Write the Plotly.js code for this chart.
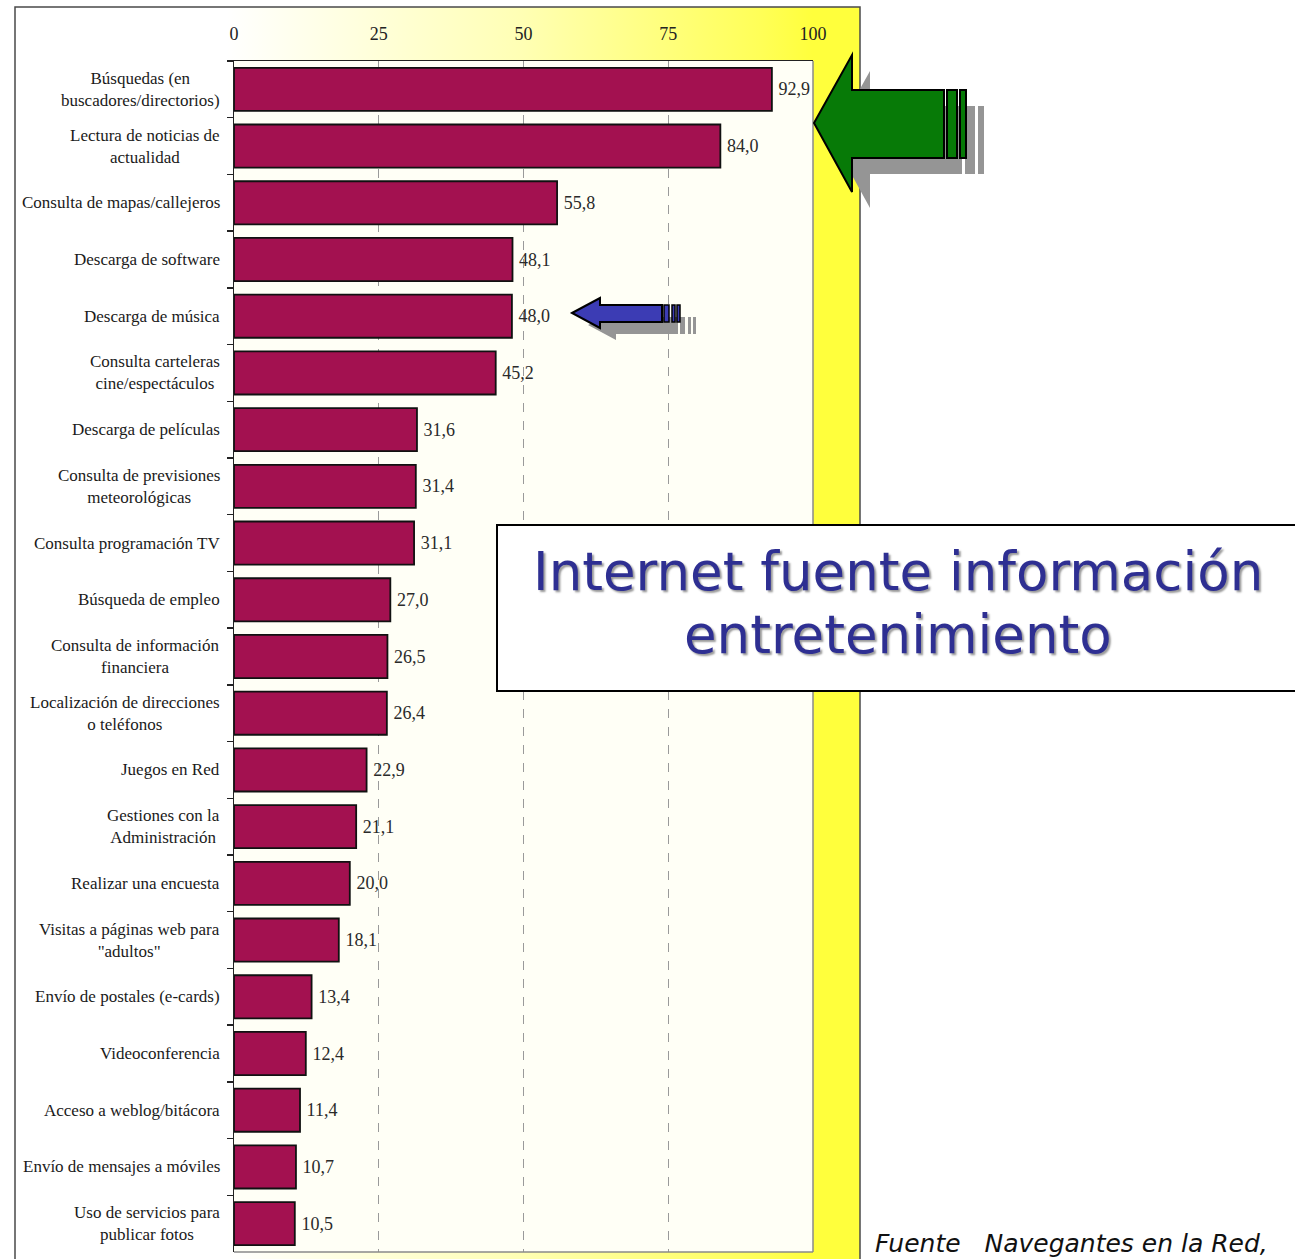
<!DOCTYPE html>
<html>
<head>
<meta charset="utf-8">
<script src="https://cdn.plot.ly/plotly-3.0.1.min.js"></script>
<style>html,body{margin:0;padding:0;background:#fff;}#chart{width:1295px;height:1259px;}</style>
</head>
<body>
<div id="chart"></div>
<script>
// ---- data ----
const categories = [
  "Búsquedas (en<br>buscadores/directorios)",
  "Lectura de noticias de<br>actualidad",
  "Consulta de mapas/callejeros",
  "Descarga de software",
  "Descarga de música",
  "Consulta carteleras<br>cine/espectáculos",
  "Descarga de películas",
  "Consulta de previsiones<br>meteorológicas",
  "Consulta programación TV",
  "Búsqueda de empleo",
  "Consulta de información<br>financiera",
  "Localización de direcciones<br>o teléfonos",
  "Juegos en Red",
  "Gestiones con la<br>Administración",
  "Realizar una encuesta",
  "Visitas a páginas web para<br>\"adultos\"",
  "Envío de postales (e-cards)",
  "Videoconferencia",
  "Acceso a weblog/bitácora",
  "Envío de mensajes a móviles",
  "Uso de servicios para<br>publicar fotos"
];
const values = [92.9, 84.0, 55.8, 48.1, 48.0, 45.2, 31.6, 31.4, 31.1, 27.0, 26.5, 26.4, 22.9, 21.1, 20.0, 18.1, 13.4, 12.4, 11.4, 10.7, 10.5];
const xTicks = [0, 25, 50, 75, 100];
const titleLines = ["Internet fuente información", "entretenimiento"];
const sourceText = "Fuente\u00a0\u00a0 Navegantes en la Red,";

// ---- geometry helpers (pixel -> paper) ----
const W = 1295, H = 1259;
const M = {l: 234, r: 482, t: 61, b: 7};
const PW = W - M.l - M.r, PH = H - M.t - M.b;
const px = x => (x - M.l) / PW;
const py = y => 1 - (y - M.t) / PH;
const path = pts => 'M ' + pts.map(p => px(p[0]).toFixed(5) + ',' + py(p[1]).toFixed(5)).join(' L ') + ' Z';
const rectP = (x0, y0, x1, y1) => path([[x0,y0],[x1,y0],[x1,y1],[x0,y1]]);
const shift = (pts, dx, dy) => pts.map(p => [p[0]+dx, p[1]+dy]);

const serif = "Liberation Serif, Times New Roman, serif";

// background gradient (white -> yellow)
const gradSvg = "<svg xmlns='http://www.w3.org/2000/svg' viewBox='0 0 845 1270' preserveAspectRatio='none' width='845' height='1270'>" +
  "<defs><linearGradient id='g' x1='0' x2='1' y1='0' y2='0'>" +
  "<stop offset='0.25' stop-color='#ffffff'/><stop offset='0.6' stop-color='#ffffb4'/>" +
  "<stop offset='0.88' stop-color='#ffff58'/><stop offset='0.944' stop-color='#ffff3c'/><stop offset='1' stop-color='#ffff3c'/>" +
  "</linearGradient></defs><rect x='0' y='0' width='845' height='1270' fill='url(#g)'/></svg>";
const gradSrc = "data:image/svg+xml;charset=utf-8," + encodeURIComponent(gradSvg);

// arrows
const greenArrow = [[814,123],[852,55],[852,90],[944,90],[944,158],[852,158],[852,192]];
const greenStripes = [[947,90,957,158],[960,90,966,158]];
const blueArrow = [[572,313],[600,298],[600,305],[662,305],[662,322],[600,322],[600,328]];
const blueStripes = [[664,305,669,322],[672,305,675,322],[677,305,680,322]];

const shapes = [];
// outer frame
shapes.push({type:'rect', xref:'paper', yref:'paper', x0:px(15), x1:px(860), y0:py(7), y1:py(1280),
  line:{color:'#4a4a4a', width:1.5}, fillcolor:'rgba(0,0,0,0)', layer:'below'});
// plot area fill (covers gradient)
shapes.push({type:'rect', xref:'paper', yref:'paper', x0:0, x1:1, y0:0, y1:1,
  line:{width:0}, fillcolor:'#fffff6', layer:'below'});
// plot right and bottom borders
shapes.push({type:'line', xref:'paper', yref:'paper', x0:1, x1:1, y0:0, y1:1, line:{color:'#8a8a8a', width:1.5}});
shapes.push({type:'line', xref:'paper', yref:'paper', x0:0, x1:1, y0:0, y1:0, line:{color:'#8a8a8a', width:1.5}});
// green arrow shadow + arrow
const gsdx = 18, gsdy = 16;
shapes.push({type:'path', xref:'paper', yref:'paper', path:path(shift(greenArrow,gsdx,gsdy)), fillcolor:'#959595', line:{width:0}});
greenStripes.forEach(s => shapes.push({type:'path', xref:'paper', yref:'paper', path:rectP(s[0]+gsdx,s[1]+gsdy,s[2]+gsdx,s[3]+gsdy), fillcolor:'#959595', line:{width:0}}));
shapes.push({type:'path', xref:'paper', yref:'paper', path:path(greenArrow), fillcolor:'#077a07', line:{color:'#000', width:2}});
greenStripes.forEach(s => shapes.push({type:'path', xref:'paper', yref:'paper', path:rectP(s[0],s[1],s[2],s[3]), fillcolor:'#077a07', line:{color:'#000', width:2}}));
// blue arrow shadow + arrow
const bsdx = 16, bsdy = 12;
shapes.push({type:'path', xref:'paper', yref:'paper', path:path(shift(blueArrow,bsdx,bsdy)), fillcolor:'#959595', line:{width:0}});
blueStripes.forEach(s => shapes.push({type:'path', xref:'paper', yref:'paper', path:rectP(s[0]+bsdx,s[1]+bsdy,s[2]+bsdx,s[3]+bsdy), fillcolor:'#959595', line:{width:0}}));
shapes.push({type:'path', xref:'paper', yref:'paper', path:path(blueArrow), fillcolor:'#3c3cb4', line:{color:'#000', width:2}});
blueStripes.forEach(s => shapes.push({type:'path', xref:'paper', yref:'paper', path:rectP(s[0],s[1],s[2],s[3]), fillcolor:'#3c3cb4', line:{color:'#000', width:1.5}}));
// title box
shapes.push({type:'rect', xref:'paper', yref:'paper', x0:px(497), x1:px(1302), y0:py(525), y1:py(691),
  fillcolor:'#ffffff', line:{color:'#000', width:2}});

const annotations = [];
categories.forEach(c => annotations.push({
  xref:'paper', yref:'y', x:px(222), y:c, xanchor:'right', yanchor:'middle', align:'center',
  text:c, showarrow:false, font:{family:serif, size:17, color:'#1a1a1a'}
}));
annotations.push({xref:'paper', yref:'paper', x:px(898), y:py(571), xanchor:'center', yanchor:'middle',
  text:titleLines[0], showarrow:false,
  font:{family:'DejaVu Sans, Verdana, sans-serif', size:53, color:'#2e2f92', shadow:'2px 2px 2px #9a9a9a'}});
annotations.push({xref:'paper', yref:'paper', x:px(898), y:py(634), xanchor:'center', yanchor:'middle',
  text:titleLines[1], showarrow:false,
  font:{family:'DejaVu Sans, Verdana, sans-serif', size:53, color:'#2e2f92', shadow:'2px 2px 2px #9a9a9a'}});
annotations.push({xref:'paper', yref:'paper', x:px(873), y:py(1243), xanchor:'left', yanchor:'middle',
  text:'<i>' + sourceText + '</i>', showarrow:false,
  font:{family:'DejaVu Sans, Verdana, sans-serif', size:25, color:'#111'}});

const trace = {
  type:'bar', orientation:'h', x:values, y:categories,
  marker:{color:'#a31150', line:{color:'#111', width:1.8}},
  texttemplate:'\u2009%{x:.1f}', textposition:'outside', cliponaxis:false,
  textfont:{family:serif, size:18, color:'#2a2a2a'}, hoverinfo:'skip'
};

const layout = {
  width:W, height:H, margin:M, separators:',.',
  paper_bgcolor:'#ffffff', plot_bgcolor:'#fffff6',
  showlegend:false, bargap:0.24,
  xaxis:{side:'top', range:[0,100], tickvals:xTicks, ticktext:xTicks.map(String),
    showgrid:true, gridcolor:'#9a9a9a', griddash:'dash', gridwidth:1, zeroline:false,
    showline:true, linecolor:'#222', linewidth:1.5, ticks:'', ticklabelstandoff:12,
    tickfont:{family:serif, size:18, color:'#222'}, fixedrange:true},
  yaxis:{type:'category', categoryorder:'array', categoryarray:categories, autorange:'reversed',
    showticklabels:false, ticks:'outside', tickson:'boundaries', ticklen:6, tickcolor:'#222', tickwidth:1.5,
    showline:true, linecolor:'#222', linewidth:1.5, showgrid:false, zeroline:false, fixedrange:true},
  images:[{source:gradSrc, xref:'paper', yref:'paper', x:px(15), y:py(7), sizex:845/PW, sizey:1270/PH,
    xanchor:'left', yanchor:'top', sizing:'stretch', layer:'below'}],
  shapes:shapes, annotations:annotations
};

Plotly.newPlot('chart', [trace], layout, {displayModeBar:false, staticPlot:true});
</script>
</body>
</html>
